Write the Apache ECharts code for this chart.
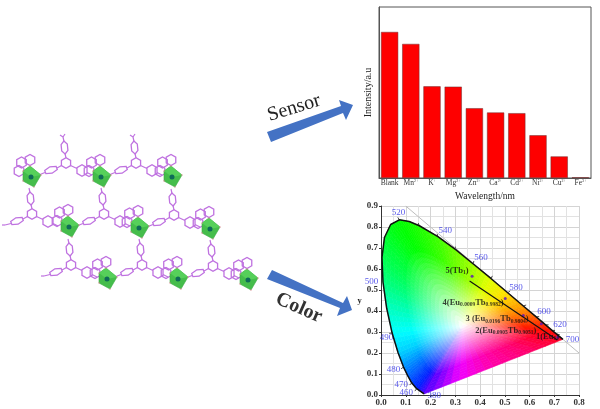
<!DOCTYPE html>
<html>
<head>
<meta charset="utf-8">
<style>
  html, body { margin: 0; padding: 0; background: #fff; }
  #main { width: 600px; height: 409px; filter: blur(0.4px); }
</style>
<script src="https://cdn.jsdelivr.net/npm/echarts@6/dist/echarts.min.js"></script>
</head>
<body>
<div id="main"></div>
<script>
// bar panel
var ions = ['Blank', 'Mn', 'K', 'Mg', 'Zn', 'Ca', 'Cd', 'Ni', 'Cu', 'Fe'];
var ionCharges = ['', '2+', '+', '2+', '2+', '2+', '2+', '2+', '2+', '3+'];
var intensity = [85.4, 78.4, 53.6, 53.4, 40.8, 38.3, 37.9, 25, 12.6, 0.4];

// CIE panel: spectral locus then the purple line, with a colour for each point
var cieLocus = [
  [0.1741, 0.005], [0.144, 0.030], [0.124, 0.058], [0.110, 0.087], [0.091, 0.133],
  [0.069, 0.201], [0.045, 0.295], [0.023, 0.413], [0.008, 0.538], [0.004, 0.655],
  [0.014, 0.750], [0.039, 0.812], [0.074, 0.834], [0.114, 0.826], [0.155, 0.806],
  [0.230, 0.754], [0.302, 0.692], [0.373, 0.624], [0.444, 0.555], [0.512, 0.487],
  [0.575, 0.424], [0.627, 0.372], [0.665, 0.334], [0.691, 0.308], [0.735, 0.265],
  [0.595, 0.200], [0.455, 0.135], [0.315, 0.070]
];
var spectralCount = 25;
var cieColors = [
  '#5000ff', '#0020ff', '#0040ff', '#0060ff', '#0090ff',
  '#00d0ff', '#00ffff', '#00ffc0', '#00ff80', '#00ff50',
  '#00ff30', '#00ff10', '#00ff00', '#10ff00', '#20ff00',
  '#40ff00', '#70ff00', '#a0ff00', '#e0ff00', '#ffe000',
  '#ffa000', '#ff6000', '#ff3000', '#ff1000', '#ff0020',
  '#ff0070', '#ff00a8', '#f000ff'
];
var whitePoint = [0.33, 0.33];
var diagonal = [[0.1, 0.9], [0.8, 0.2]];
var wavelengthTicks = [
  [0.144, 0.030], [0.124, 0.058], [0.091, 0.133], [0.045, 0.295], [0.074, 0.834],
  [0.155, 0.806], [0.230, 0.754], [0.302, 0.692], [0.373, 0.624], [0.444, 0.555],
  [0.512, 0.487], [0.575, 0.424], [0.627, 0.372], [0.665, 0.334], [0.691, 0.308], [0.710, 0.289]
];
var wavelengthLabels = [
  [0.071, 0.867, '520'], [0.260, 0.783, '540'], [0.404, 0.653, '560'], [0.545, 0.513, '580'],
  [0.659, 0.397, '600'], [0.723, 0.335, '620'], [0.774, 0.264, '700'], [-0.038, 0.538, '500'],
  [0.022, 0.274, '490'], [0.050, 0.123, '480'], [0.082, 0.051, '470'], [0.102, 0.013, '460'],
  [0.215, -0.003, '380']
];
var samplePoints = [[0.368, 0.566], [0.502, 0.460], [0.575, 0.378], [0.648, 0.339], [0.714, 0.275]];
var sampleTrend = [[0.358, 0.543], [0.711, 0.263]];
var sampleLabels = [
  [0.307, 0.592, '5(Tb{s|1})'],
  [0.372, 0.440, '4(Eu{s|0.0009}Tb{s|0.9982})'],
  [0.469, 0.361, '3 (Eu{s|0.0196}Tb{s|0.9804})'],
  [0.504, 0.307, '2(Eu{s|0.0905}Tb{s|0.9051})'],
  [0.673, 0.278, '1(Eu{s|1})']
];

// lattice panel: metal centres and the hubs of the linkers, y counts down
var metalNodes = [
  [31, 177], [101, 177], [172, 177], [69, 227], [139, 228], [210, 229], [107, 279], [178, 279], [248, 280]
];
var hubNodes = [
  [66, 163], [136, 163], [32, 214], [104, 214], [174, 215], [71, 265], [142, 265], [213, 266]
];
// free ends: which hubs end in a tip upward / to the left
var hubUpTip = [true, true, false, false, false, false, false, false];
var hubLeftTip = [false, false, true, false, false, true, false, false];

var ringColor = '#bf72e0';
var serif = '"Liberation Serif", "Times New Roman", serif';

function ring(cx, cy, rx, ry, rot) {
  var pts = [];
  for (var k = 0; k < 6; k++) {
    var a = Math.PI / 6 + k * Math.PI / 3;
    var x = rx * Math.cos(a), y = ry * Math.sin(a);
    pts.push([cx + x * Math.cos(rot) - y * Math.sin(rot), cy + x * Math.sin(rot) + y * Math.cos(rot)]);
  }
  return { type: 'polygon', shape: { points: pts }, style: { fill: 'none', stroke: ringColor, lineWidth: 1.3 } };
}
function bond(x1, y1, x2, y2) {
  return { type: 'line', shape: { x1: x1, y1: y1, x2: x2, y2: y2 }, style: { stroke: ringColor, lineWidth: 1.2 } };
}

function renderHub(params, api) {
  var c = api.coord([api.value(0), api.value(1)]);
  var i = params.dataIndex, x = c[0], y = c[1];
  var kids = [ring(x, y, 5.3, 5.3, 0)];
  // up arm
  kids.push(ring(x - 1.5, y - 15.5, 3.6, 6.5, -0.1));
  kids.push(bond(x, y - 5, x - 1, y - 9.5));
  kids.push(bond(x - 2, y - 21.5, x - 3, y - 26));
  if (hubUpTip[i]) {
    kids.push(bond(x - 3, y - 26, x - 6, y - 28));
    kids.push(bond(x - 3, y - 26, x - 1, y - 29));
  }
  // left arm
  kids.push(ring(x - 15, y + 7, 7, 3.4, -0.35));
  kids.push(bond(x - 4.5, y + 2.5, x - 9, y + 5));
  if (hubLeftTip[i]) {
    kids.push(bond(x - 21, y + 9.5, x - 27, y + 11));
    kids.push(bond(x - 27, y + 11, x - 30, y + 11));
  } else {
    kids.push(bond(x - 21, y + 9.5, x - 26, y + 11.5));
  }
  // right arm
  kids.push(ring(x + 16, y + 7.5, 5.8, 5.8, 0));
  kids.push(bond(x + 4.5, y + 2.5, x + 11, y + 5.5));
  kids.push(bond(x + 21, y + 9.5, x + 26, y + 12));
  return { type: 'group', children: kids };
}

function renderMetal(params, api) {
  var c = api.coord([api.value(0), api.value(1)]);
  var x = c[0], y = c[1];
  var outline = [[x - 1, y - 11], [x + 10, y - 2], [x + 3, y + 10], [x - 8, y + 4], [x - 8, y - 6]];
  var kids = [
    ring(x - 9.5, y - 14.5, 5.5, 5.5, 0),
    ring(x - 1, y - 17, 5.5, 5.5, 0),
    ring(x - 12, y - 6, 5.5, 5.5, 0),
    { type: 'polygon', shape: { points: outline }, style: { fill: '#45bd4b', stroke: '#3bad42', lineWidth: 0.6 } },
    { type: 'polygon', shape: { points: [[x - 8, y - 6], [x - 1, y - 11], [x + 10, y - 2], [x, y]] }, style: { fill: '#56d05a' } },
    { type: 'circle', shape: { cx: x, cy: y, r: 2.5 }, style: { fill: '#0f6b58' } }
  ];
  outline.forEach(function (p) {
    kids.push({ type: 'circle', shape: { cx: p[0], cy: p[1], r: 0.7 }, style: { fill: '#e48a9a' } });
  });
  return { type: 'group', children: kids };
}

function hexToRgb(h) {
  return [parseInt(h.substr(1, 2), 16), parseInt(h.substr(3, 2), 16), parseInt(h.substr(5, 2), 16)];
}

// one wedge of the horseshoe: white point out to two neighbouring locus points
function renderWedge(params, api) {
  var i = params.dataIndex, n = cieLocus.length, j = (i + 1) % n;
  var w = api.coord(whitePoint), a = api.coord(cieLocus[i]), b = api.coord(cieLocus[j]);
  var ca = hexToRgb(cieColors[i]), cb = hexToRgb(cieColors[j]);
  var kids = [], bands = 20, slices = 4;
  function at(s, t) {
    var ex = a[0] + (b[0] - a[0]) * s, ey = a[1] + (b[1] - a[1]) * s;
    return [w[0] + (ex - w[0]) * t, w[1] + (ey - w[1]) * t];
  }
  for (var sl = 0; sl < slices; sl++) {
    for (var bd = 0; bd < bands; bd++) {
      var s0 = sl / slices, s1 = (sl + 1) / slices, t0 = bd / bands, t1 = (bd + 1) / bands;
      var sm = (s0 + s1) / 2, tm = Math.min(1, (t0 + t1) / 2 / 0.72);
      var rgb = [0, 1, 2].map(function (q) {
        var edge = ca[q] + (cb[q] - ca[q]) * sm;
        return Math.round(255 + (edge - 255) * tm);
      });
      var col = 'rgb(' + rgb.join(',') + ')';
      kids.push({
        type: 'polygon',
        shape: { points: [at(s0, t0), at(s1, t0), at(s1, t1), at(s0, t1)] },
        style: { fill: col, stroke: col, lineWidth: 0.6 }
      });
    }
  }
  return { type: 'group', children: kids };
}

function renderLocusTick(params, api) {
  var p = api.coord([api.value(0), api.value(1)]), w = api.coord(whitePoint);
  var dx = p[0] - w[0], dy = p[1] - w[1], d = Math.sqrt(dx * dx + dy * dy);
  return {
    type: 'line',
    shape: { x1: p[0], y1: p[1], x2: p[0] + dx / d * 3, y2: p[1] + dy / d * 3 },
    style: { stroke: '#222', lineWidth: 0.8 }
  };
}

var myChart = echarts.init(document.getElementById('main'));

var option = {
  animation: false,
  backgroundColor: '#fff',
  grid: [
    { left: 379, top: 7, width: 212, height: 171, outerBoundsMode: 'none', show: true, borderColor: '#555', borderWidth: 1, backgroundColor: 'transparent' },
    { left: 381, top: 206, width: 198, height: 189, outerBoundsMode: 'none' },
    { left: 0, top: 0, width: 600, height: 409, outerBoundsMode: 'none' }
  ],
  xAxis: [
    {
      gridIndex: 0,
      type: 'category',
      data: ions.map(function (name, i) { return ionCharges[i] ? name + '{s|' + ionCharges[i] + '}' : name; }),
      axisLine: { lineStyle: { color: '#555' } },
      axisTick: { show: false },
      axisLabel: {
        interval: 0, margin: 1, fontFamily: serif, fontSize: 7.5, color: '#333',
        rich: { s: { fontFamily: serif, fontSize: 4, color: '#333', verticalAlign: 'top', lineHeight: 8 } }
      },
      name: 'Wavelength/nm',
      nameLocation: 'middle',
      nameGap: 13,
      nameTextStyle: { fontFamily: serif, fontSize: 9.5, color: '#222' }
    },
    {
      gridIndex: 1,
      type: 'value',
      min: 0,
      max: 0.8,
      interval: 0.1,
      minorTick: { show: false, splitNumber: 2 },
      minorSplitLine: { show: true, lineStyle: { color: '#e2e2e2', width: 1 } },
      splitLine: { show: true, lineStyle: { color: '#d4d4d4', width: 1 } },
      axisLine: { onZero: false, lineStyle: { color: '#333' } },
      axisTick: { length: 2, lineStyle: { color: '#333' } },
      axisLabel: {
        margin: 3, fontFamily: serif, fontSize: 9, fontWeight: 'bold', color: '#333',
        formatter: function (v) { return v.toFixed(1); }
      },
      name: 'x',
      nameLocation: 'middle',
      nameGap: 8,
      nameTextStyle: { fontFamily: serif, fontSize: 8.5, fontWeight: 'bold', color: '#222' }
    },
    { gridIndex: 2, type: 'value', min: 0, max: 600, show: false }
  ],
  yAxis: [
    {
      gridIndex: 0,
      type: 'value',
      min: 0,
      max: 100,
      axisLabel: { show: false },
      axisTick: { show: false },
      axisLine: { show: true, lineStyle: { color: '#555' } },
      splitLine: { show: false },
      name: 'Intensity/a.u',
      nameLocation: 'middle',
      nameGap: 6,
      nameTextStyle: { fontFamily: serif, fontSize: 10, color: '#222' }
    },
    {
      gridIndex: 1,
      type: 'value',
      min: 0,
      max: 0.9,
      interval: 0.1,
      minorTick: { show: false, splitNumber: 2 },
      minorSplitLine: { show: true, lineStyle: { color: '#e2e2e2', width: 1 } },
      splitLine: { show: true, lineStyle: { color: '#d4d4d4', width: 1 } },
      axisLine: { onZero: false, lineStyle: { color: '#333' } },
      axisTick: { length: 2, lineStyle: { color: '#333' } },
      axisLabel: {
        margin: 3, fontFamily: serif, fontSize: 9, fontWeight: 'bold', color: '#333',
        formatter: function (v) { return v.toFixed(1); }
      },
      name: 'y',
      nameLocation: 'middle',
      nameRotate: 0,
      nameGap: 15,
      nameTextStyle: { fontFamily: serif, fontSize: 8.5, fontWeight: 'bold', color: '#222' }
    },
    { gridIndex: 2, type: 'value', min: 0, max: 409, inverse: true, show: false }
  ],
  series: [
    {
      type: 'bar',
      xAxisIndex: 0,
      yAxisIndex: 0,
      data: intensity,
      barWidth: '81%',
      itemStyle: { color: '#fe0000', borderColor: '#6a3030', borderWidth: 0.5 }
    },
    {
      type: 'line',
      xAxisIndex: 1,
      yAxisIndex: 1,
      data: diagonal,
      symbol: 'none',
      lineStyle: { color: '#bdbdbd', width: 1 }
    },
    {
      type: 'custom',
      xAxisIndex: 1,
      yAxisIndex: 1,
      data: cieLocus,
      encode: { x: 0, y: 1 },
      renderItem: renderWedge
    },
    {
      type: 'line',
      xAxisIndex: 1,
      yAxisIndex: 1,
      data: cieLocus.slice(0, spectralCount),
      symbol: 'none',
      lineStyle: { color: '#111', width: 1.5 },
      clip: false
    },
    {
      type: 'custom',
      xAxisIndex: 1,
      yAxisIndex: 1,
      data: wavelengthTicks,
      encode: { x: 0, y: 1 },
      renderItem: renderLocusTick
    },
    {
      type: 'scatter',
      xAxisIndex: 1,
      yAxisIndex: 1,
      data: wavelengthLabels,
      symbolSize: 0,
      clip: false,
      label: {
        show: true, position: 'inside', fontFamily: serif, fontSize: 9, color: '#2f2fe6',
        formatter: function (p) { return p.value[2]; }
      }
    },
    {
      type: 'line',
      xAxisIndex: 1,
      yAxisIndex: 1,
      data: sampleTrend,
      symbol: 'none',
      lineStyle: { color: '#111', width: 1.1 }
    },
    {
      type: 'scatter',
      xAxisIndex: 1,
      yAxisIndex: 1,
      data: samplePoints,
      symbolSize: 3,
      itemStyle: { color: '#5a10c0' }
    },
    {
      type: 'scatter',
      xAxisIndex: 1,
      yAxisIndex: 1,
      data: sampleLabels,
      symbolSize: 0,
      clip: false,
      label: {
        show: true, position: 'inside', fontFamily: serif, fontSize: 8.5, fontWeight: 'bold', color: '#111',
        formatter: function (p) { return p.value[2]; },
        rich: { s: { fontFamily: serif, fontSize: 5.5, fontWeight: 'bold', color: '#111', verticalAlign: 'bottom', lineHeight: 10 } }
      }
    },
    {
      type: 'custom',
      xAxisIndex: 2,
      yAxisIndex: 2,
      data: hubNodes,
      encode: { x: 0, y: 1 },
      renderItem: renderHub
    },
    {
      type: 'custom',
      xAxisIndex: 2,
      yAxisIndex: 2,
      data: metalNodes,
      encode: { x: 0, y: 1 },
      renderItem: renderMetal
    }
  ],
  graphic: [
    {
      type: 'polygon',
      shape: { points: [[267, 132], [271, 142], [343, 113], [346, 120], [353, 105], [339, 100], [341, 106]] },
      style: { fill: '#4472c4' }
    },
    {
      type: 'polygon',
      shape: { points: [[267, 279], [272, 270], [343, 303], [347, 296], [352, 310], [337, 316], [340, 308]] },
      style: { fill: '#4472c4' }
    },
    {
      type: 'text', x: 294, y: 108, rotation: 17 * Math.PI / 180,
      style: { text: 'Sensor', font: '20px ' + serif, fill: '#222', textAlign: 'center', textVerticalAlign: 'middle' }
    },
    {
      type: 'text', x: 299, y: 308, rotation: -24 * Math.PI / 180,
      style: { text: 'Color', font: 'bold 20px ' + serif, fill: '#333', textAlign: 'center', textVerticalAlign: 'middle' }
    }
  ]
};

myChart.setOption(option);
</script>
</body>
</html>
